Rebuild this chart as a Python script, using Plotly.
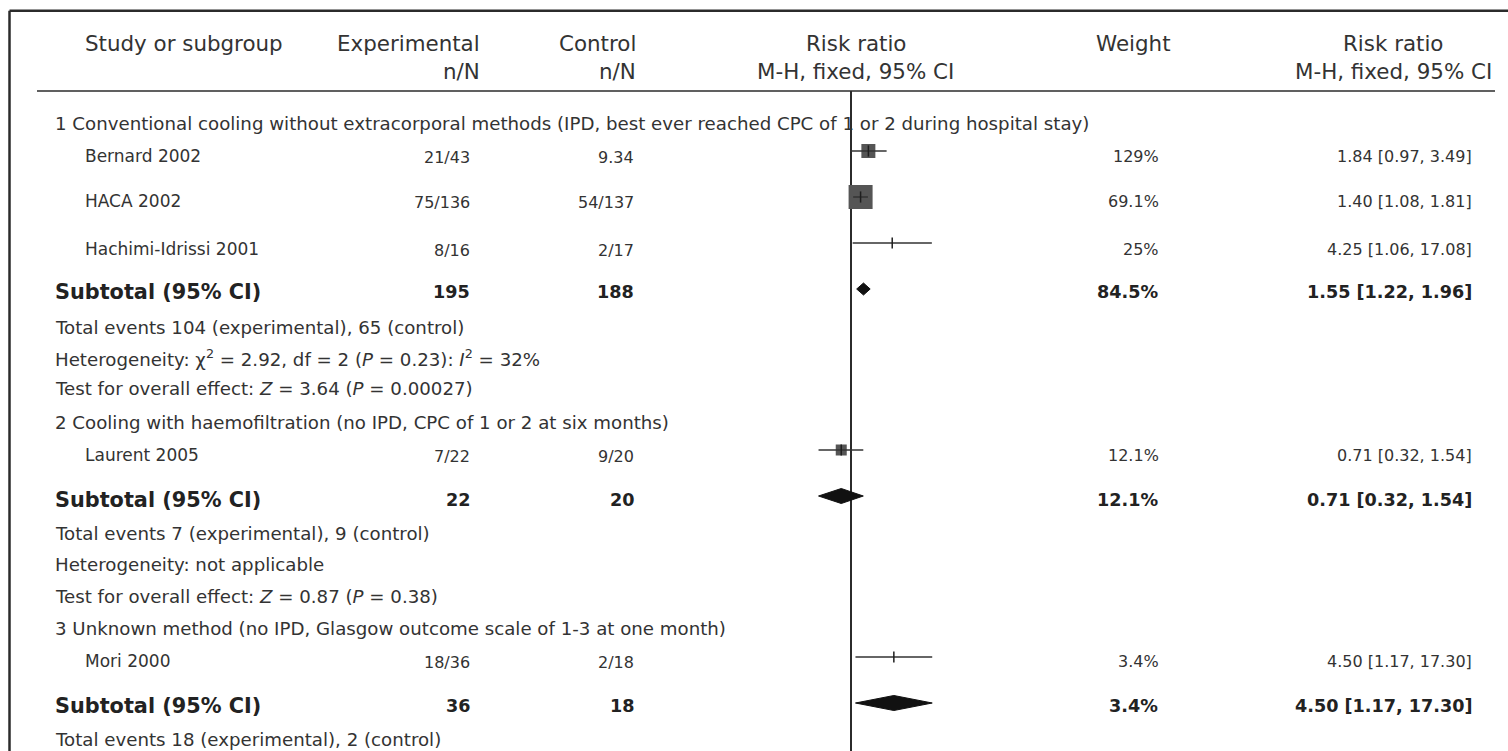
import math
import plotly.graph_objects as go

# ---------------- data ----------------
studies = ["Bernard 2002", "HACA 2002", "Hachimi-Idrissi 2001", "Laurent 2005", "Mori 2000"]
exp_nN = ["21/43", "75/136", "8/16", "7/22", "18/36"]
ctl_nN = ["9.34", "54/137", "2/17", "9/20", "2/18"]
rr = [1.84, 1.40, 4.25, 0.71, 4.50]
rr_lo = [0.97, 1.08, 1.06, 0.32, 1.17]
rr_hi = [3.49, 1.81, 17.08, 1.54, 17.30]
weight_txt = ["129%", "69.1%", "25%", "12.1%", "3.4%"]
rr_txt = ["1.84 [0.97, 3.49]", "1.40 [1.08, 1.81]", "4.25 [1.06, 17.08]",
          "0.71 [0.32, 1.54]", "4.50 [1.17, 17.30]"]

subgroups = [
    "1 Conventional cooling without extracorporal methods (IPD, best ever reached CPC of 1 or 2 during hospital stay)",
    "2 Cooling with haemofiltration (no IPD, CPC of 1 or 2 at six months)",
    "3 Unknown method (no IPD, Glasgow outcome scale of 1-3 at one month)",
]
sub_exp_N = ["195", "22", "36"]
sub_ctl_N = ["188", "20", "18"]
sub_rr = [1.55, 0.71, 4.50]
sub_lo = [1.22, 0.32, 1.17]
sub_hi = [1.96, 1.54, 17.30]
sub_weight = ["84.5%", "12.1%", "3.4%"]
sub_rr_txt = ["1.55 [1.22, 1.96]", "0.71 [0.32, 1.54]", "4.50 [1.17, 17.30]"]
total_events = [
    "Total events 104 (experimental), 65 (control)",
    "Total events 7 (experimental), 9 (control)",
    "Total events 18 (experimental), 2 (control)",
]
heterogeneity = [
    "Heterogeneity: χ<sup>2</sup> = 2.92, df = 2 (<i>P</i> = 0.23): <i>I</i><sup>2</sup> = 32%",
    "Heterogeneity: not applicable",
]
overall_effect = [
    "Test for overall effect: <i>Z</i> = 3.64 (<i>P</i> = 0.00027)",
    "Test for overall effect: <i>Z</i> = 0.87 (<i>P</i> = 0.38)",
]

headers1 = ["Study or subgroup", "Experimental", "Control", "Risk ratio", "Weight", "Risk ratio"]
headers2 = ["", "n/N", "n/N", "M-H, fixed, 95% CI", "", "M-H, fixed, 95% CI"]

# ---------------- layout (pixels) ----------------
W, H = 1508, 751
X_ONE = 851.0          # pixel of RR = 1
PX_PER_DEC = 65.6      # pixels per decade on the log scale
x_range = [-X_ONE / PX_PER_DEC, (W - X_ONE) / PX_PER_DEC]

study_text_y = [156, 201, 249, 455, 661]
study_mark_y = [151, 197, 243, 450, 657]
sq_size = [14, 24, 0, 11, 0]
group_y = [123, 422, 628]
sub_text_y = [292, 500, 706]
sub_mark_y = [289, 496, 703]
diamond_h = [12, 15, 15]
total_y = [327, 533, 739]
het_y = [358, 564]
test_y = [388, 596]

X_NAME, X_LABEL = 83, 53
X_EXP, X_CTL = 482, 636
X_WT, X_RR = 1161, 1474

TXT = "#333333"
FONT = "DejaVu Sans"


def px(x):
    return x / W


fig = go.Figure()

# line of no effect
fig.add_trace(go.Scatter(x=[1, 1], y=[91, H + 5], mode="lines",
                         line=dict(color="#2b2b2b", width=2), hoverinfo="skip"))

# squares (weights)
fig.add_trace(go.Scatter(x=rr, y=study_mark_y, mode="markers",
                         marker=dict(symbol="square", size=sq_size, color="#555555", opacity=1,
                                     line=dict(width=0)), hoverinfo="skip"))
# CI lines drawn over the squares
for i in range(len(studies)):
    fig.add_trace(go.Scatter(x=[rr_lo[i], rr_hi[i]], y=[study_mark_y[i]] * 2, mode="lines",
                             line=dict(color="#333333", width=1.5), hoverinfo="skip"))
# point ticks
fig.add_trace(go.Scatter(x=rr, y=study_mark_y, mode="markers",
                         marker=dict(symbol="line-ns", size=8, opacity=1,
                                     line=dict(width=1.5, color="#1e1e1e")), hoverinfo="skip"))
# diamonds
for i in range(len(sub_rr)):
    y0, h = sub_mark_y[i], diamond_h[i] / 2
    fig.add_trace(go.Scatter(x=[sub_lo[i], sub_rr[i], sub_hi[i], sub_rr[i], sub_lo[i]],
                             y=[y0, y0 - h, y0, y0 + h, y0], mode="lines", fill="toself",
                             fillcolor="#111111", line=dict(color="#111111", width=1),
                             hoverinfo="skip"))

ann = []


def add(text, x, y, anchor="left", size=16, bold=False, color=TXT):
    ann.append(dict(text=("<b>%s</b>" % text) if bold else text, x=px(x), xref="paper",
                    y=y, yref="y", xanchor=anchor, yanchor="middle", showarrow=False,
                    font=dict(family=FONT, size=size, color=color)))


# headers
hx = [(X_NAME, "left"), (X_EXP, "right"), (X_CTL + 2, "right"), (856, "center"),
      (1133, "center"), (1393, "center")]
for i, (x, a) in enumerate(hx):
    add(headers1[i], x, 43, a, 21.4)
    if headers2[i]:
        add(headers2[i], x, 71, a, 21.4)

# study rows
for i in range(len(studies)):
    add(studies[i], X_NAME, study_text_y[i], "left", 17)
    add(exp_nN[i], X_EXP - 10, study_text_y[i] + 1, "right", 16)
    add(ctl_nN[i], X_CTL, study_text_y[i] + 1, "right", 16)
    add(weight_txt[i], X_WT, study_text_y[i], "right", 16)
    add(rr_txt[i], X_RR, study_text_y[i], "right", 16)

# subgroup rows
for g in range(len(subgroups)):
    add(subgroups[g], X_LABEL, group_y[g], "left", 18.2)
    add("Subtotal (95% CI)", X_LABEL, sub_text_y[g], "left", 20.8, True, "#222222")
    add(sub_exp_N[g], X_EXP - 10, sub_text_y[g], "right", 17.6, True, "#222222")
    add(sub_ctl_N[g], X_CTL, sub_text_y[g], "right", 17.6, True, "#222222")
    add(sub_weight[g], X_WT - 1, sub_text_y[g], "right", 17.6, True, "#222222")
    add(sub_rr_txt[g], X_RR, sub_text_y[g], "right", 17.6, True, "#222222")
    add(total_events[g], X_LABEL, total_y[g], "left", 18.2)
    if g < len(heterogeneity):
        add(heterogeneity[g], X_LABEL, het_y[g], "left", 18.2)
        add(overall_effect[g], X_LABEL, test_y[g], "left", 18.2)

shapes = [
    # frame (top and left edges)
    dict(type="line", xref="paper", yref="paper", x0=px(9.5), x1=1.01, y0=1 - 10.7 / H, y1=1 - 10.7 / H,
         line=dict(color="#2b2b2b", width=2.5)),
    dict(type="line", xref="paper", yref="paper", x0=px(9.5), x1=px(9.5), y0=1 - 10.7 / H, y1=-0.01,
         line=dict(color="#2b2b2b", width=2.5)),
    # header separator
    dict(type="line", xref="paper", yref="paper", x0=px(37), x1=px(1495), y0=1 - 91 / H, y1=1 - 91 / H,
         line=dict(color="#2b2b2b", width=1.6)),
]

fig.update_layout(
    width=W, height=H, margin=dict(l=0, r=0, t=0, b=0),
    paper_bgcolor="white", plot_bgcolor="white", showlegend=False,
    xaxis=dict(type="log", range=x_range, domain=[0, 1], visible=False, fixedrange=True),
    yaxis=dict(range=[H, 0], domain=[0, 1], visible=False, fixedrange=True),
    annotations=ann, shapes=shapes,
)

fig.write_html("out.html", config={"displayModeBar": False})
